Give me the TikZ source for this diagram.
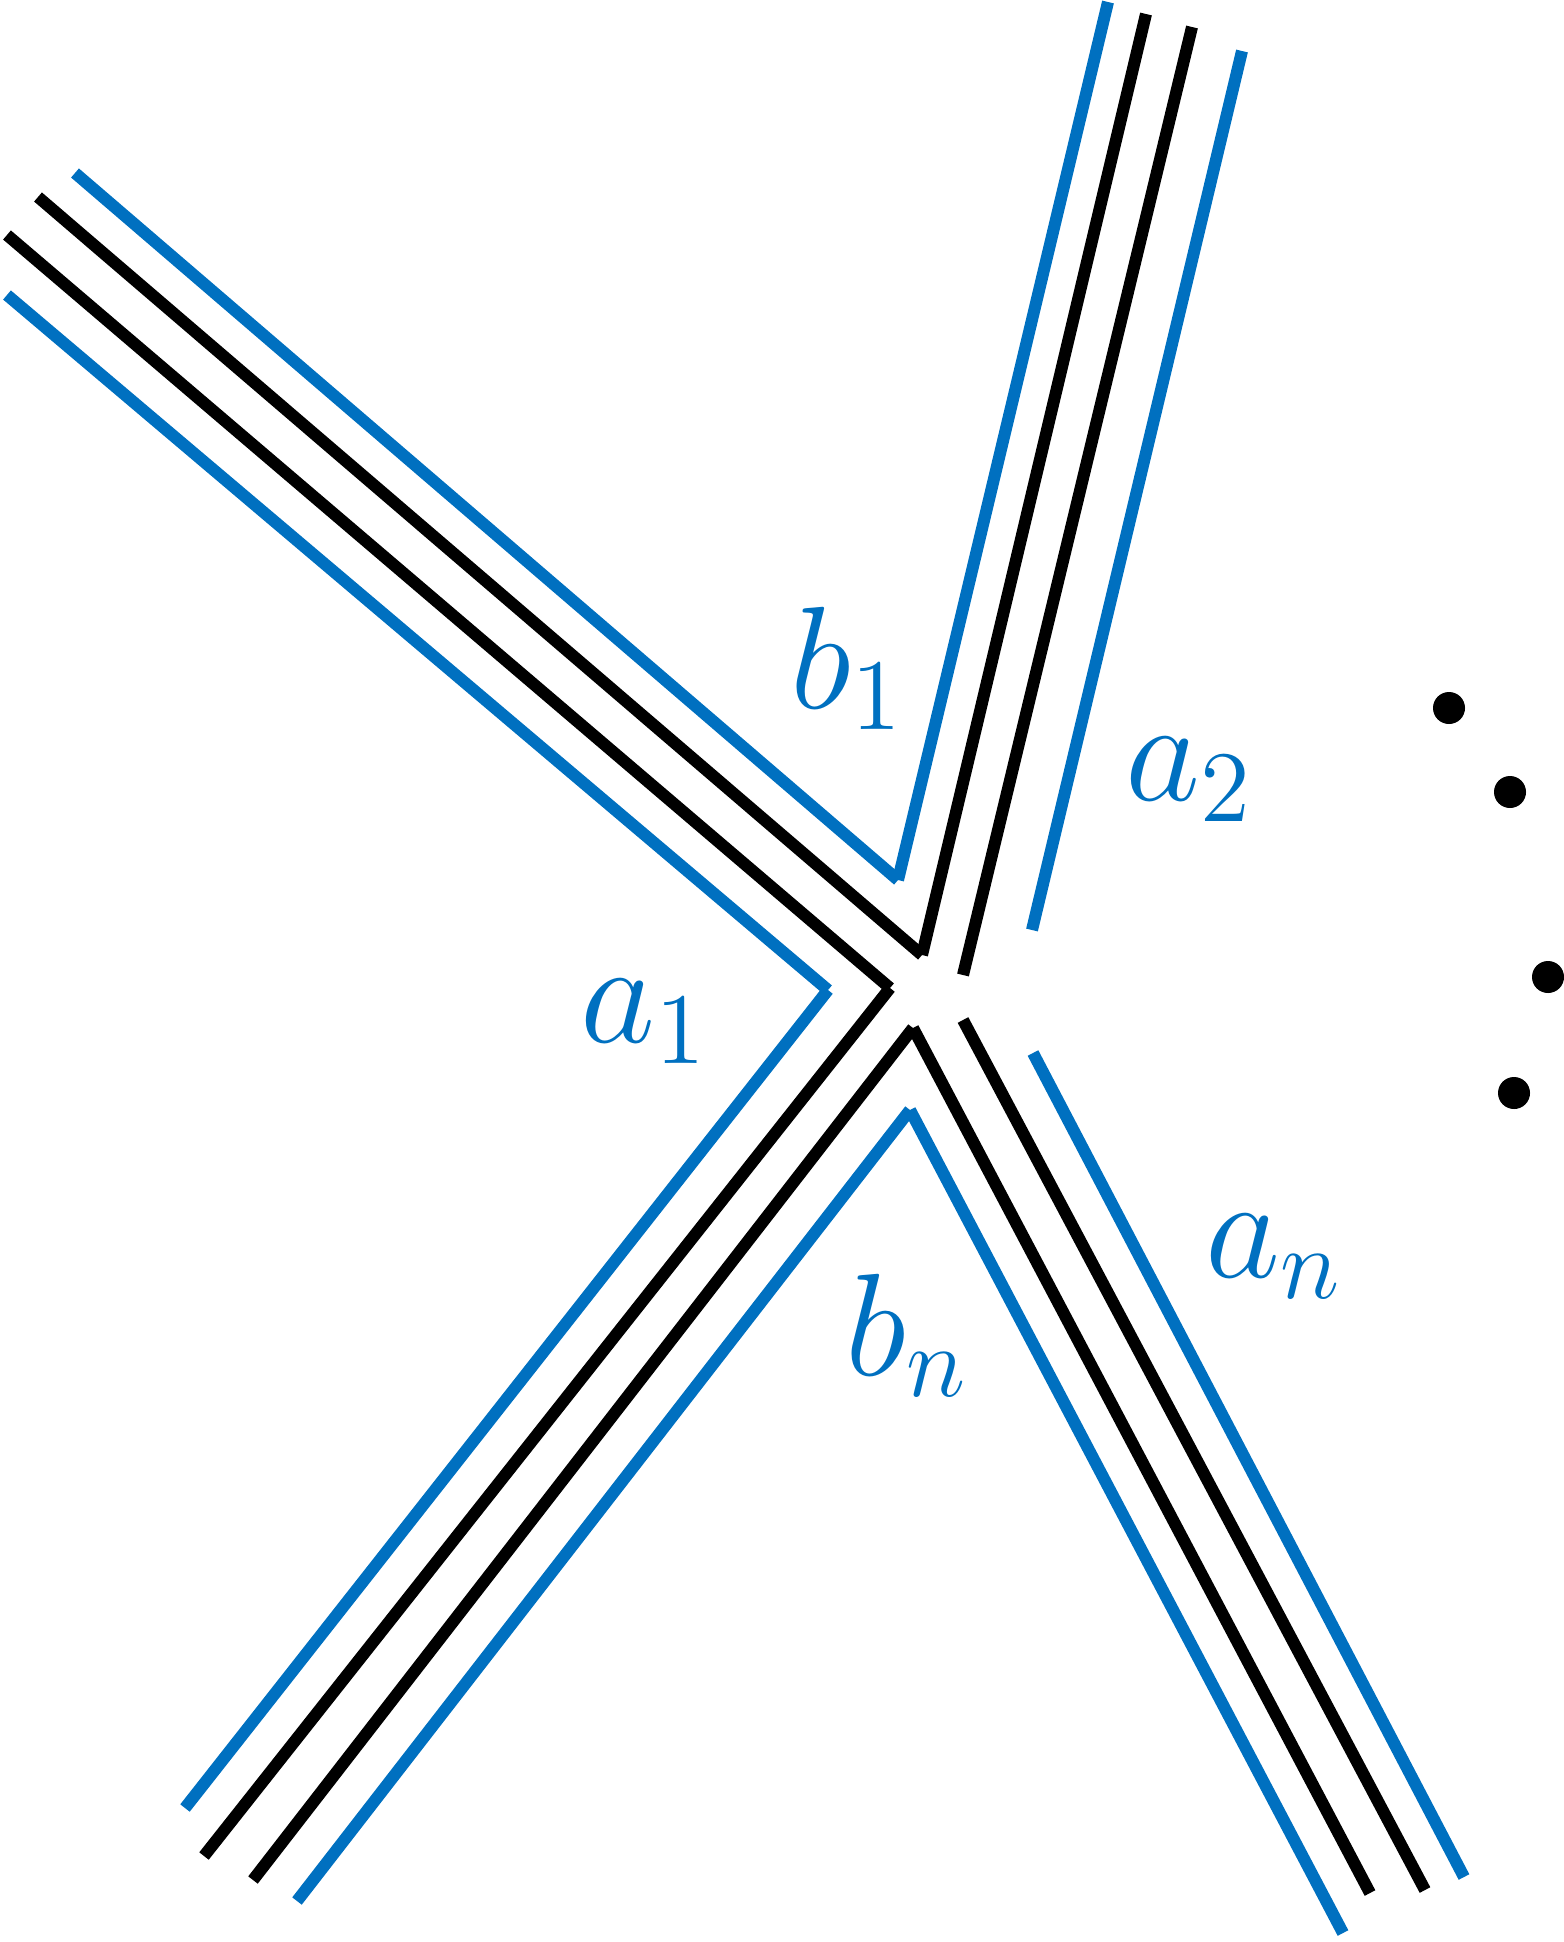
\documentclass[tikz,border=0pt]{standalone}
\usepackage{amsmath}
\usepackage{xcolor}
\usepackage{tikz}
\definecolor{strandblue}{HTML}{0070C0}
\newcommand{\biglbl}[1]{\scalebox{2}{$#1$}}

\begin{document}
\begin{tikzpicture}[
    x=0.01cm, y=-0.01cm,
    bluestrand/.style={draw=strandblue, line width=0.12cm},
    blackstrand/.style={draw=black, line width=0.12cm},
    lbl/.style={text=strandblue, inner sep=0pt, anchor=base west, font=\fontsize{20.74}{25}\selectfont},
    dotmark/.style={circle, fill=black, inner sep=0pt, minimum size=0.32cm}
]
\useasboundingbox (0,0) rectangle (1564,1942);

% corners near the vertex
\coordinate (cb1) at (898,880);
\coordinate (ck1) at (922,955);
\coordinate (ck2) at (890,988);
\coordinate (ca1) at (828,990);
\coordinate (ck3) at (913,1028);
\coordinate (cbn) at (910,1110);

% outer ends of the arms
\coordinate (nwA) at (75,173);
\coordinate (nwB) at (38,197);
\coordinate (nwC) at (7,235);
\coordinate (nwD) at (7,295);
\coordinate (nA) at (1108,2);
\coordinate (nB) at (1146,14);
\coordinate (nC) at (1192,27);
\coordinate (nD) at (1242,51);
\coordinate (swA) at (185,1808);
\coordinate (swB) at (204,1856);
\coordinate (swC) at (253,1880);
\coordinate (swD) at (297,1901);
\coordinate (seA) at (1343,1933);
\coordinate (seB) at (1370,1893);
\coordinate (seC) at (1425,1890);
\coordinate (seD) at (1464,1877);

% loose inner ends
\coordinate (nCi) at (963,975);
\coordinate (nDi) at (1032,930);
\coordinate (seCi) at (963,1020);
\coordinate (seDi) at (1033,1053);

% bent strands
\foreach \p/\c/\q/\s in {nwA/cb1/nA/bluestrand, nwB/ck1/nB/blackstrand,
    nwC/ck2/swB/blackstrand, nwD/ca1/swA/bluestrand,
    swC/ck3/seB/blackstrand, swD/cbn/seA/bluestrand} {
    \draw[\s] (\p) -- (\c);
    \draw[\s] (\c) -- (\q);
}

% straight strands
\draw[blackstrand] (nC) -- (nCi);
\draw[bluestrand] (nD) -- (nDi);
\draw[blackstrand] (seCi) -- (seC);
\draw[bluestrand] (seDi) -- (seD);

\node[lbl] (lb1) at (790,708) {\biglbl{b_1}};
\node[lbl] (la1) at (580,1042) {\biglbl{a_1}};
\node[lbl] (la2) at (1125,800) {\biglbl{a_2}};
\node[lbl] (lan) at (1205,1277) {\biglbl{a_n}};
\node[lbl] (lbn) at (845,1375) {\biglbl{b_n}};

\node[dotmark] (dot1) at (1449,708) {};
\node[dotmark] (dot2) at (1510,792) {};
\node[dotmark] (dot3) at (1548,977) {};
\node[dotmark] (dot4) at (1514,1093) {};

\end{tikzpicture}
\end{document}
